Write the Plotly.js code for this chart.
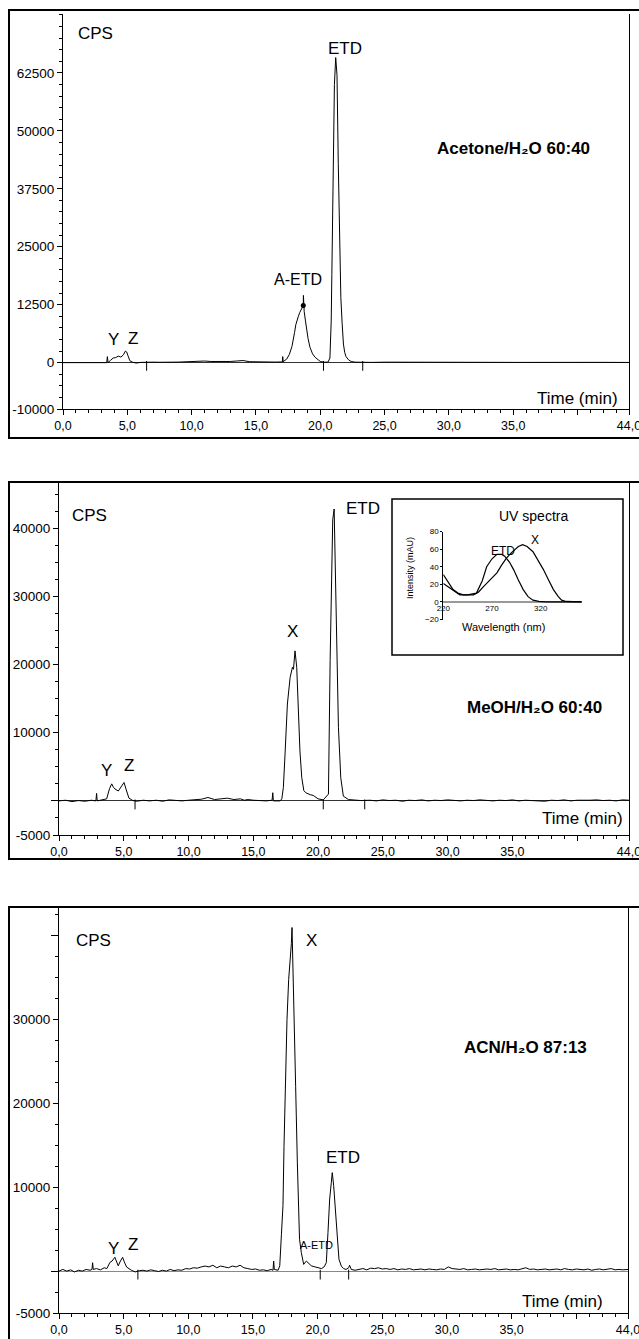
<!DOCTYPE html>
<html><head><meta charset="utf-8">
<script src="https://cdn.plot.ly/plotly-3.0.1.min.js"></script>
<style>html,body{margin:0;padding:0;background:#fff}#c{width:639px;height:1339px}</style>
</head><body><div id="c"></div>
<script>
// ---------- DATA ----------
// Panel 1: Acetone/H2O 60:40
const acetoneTime = [0,1,2,3,3.4,3.45,3.5,3.7,3.9,4.1, 4.3,4.5,4.7,4.85,4.95,5.05,5.2,5.4,5.7,6.0, 6.5,7.0,7.5,8.0,8.5,9.0,9.5,10.0,10.5,11.0, 11.5,12.0,12.5,13.0,13.5,14.0,14.5,15.0,15.5,16.0, 16.5,17.0,17.05,17.08,17.12,
  17.4,17.6,17.8,17.9,18.0,18.1,18.2,18.3,18.4,18.5,18.6,18.68,18.69,18.7,18.75,18.85,18.95,19.05,19.2,19.4,19.6,19.8,20.0,20.3,20.6,
  20.75,20.85,20.9,21.0,21.1,21.2,21.3,21.4,21.5,21.6,21.7,21.8,21.9,22.0,22.2,22.4,22.7,23.0,
  24,25,26,27,28,29,30,31,32,33,34,35,36,37,38,39,40,41,42,43,44];
const acetoneCps = [0,0,0,0,0,1300,0,500,1000,1100, 1400,1200,1700,2500,2300,1500,400,100,-100,50, 0,100,80,150,100,120,200,150,250,350, 250,200,300,250,350,450,200,150,100,80, 120,150,100,1300,200,
  800,1800,3500,4800,6500,8200,9300,10000,10800,11300,11800,12300,14500,12100,11000,9000,7000,5200,3300,1900,1150,600,250,100,100,
  1000,9000,19000,45000,60000,65800,62000,43000,26000,14000,8500,4000,2200,1300,600,250,100,80,
  50,100,80,60,100,80,50,70,60,80,60,50,70,60,80,60,50,40,60,50,40];

// Panel 2: MeOH/H2O 60:40
const meohTime = [0,0.5,1.0,1.5,2.0,2.5,2.85,2.9,2.95,3.3,3.68,3.9,4.07,4.2,4.32,4.58,4.84,5.02,5.22,5.4,5.7,
  6.0,6.5,7.0,7.5,8.0,8.5,9.0,9.5,10.0,10.5,11.0,11.5,12.0,12.5,13.0,13.5,14.0,14.3,14.6,15.0,15.5,16.0,16.45,16.5,16.55,17.07,
  17.2,17.32,17.45,17.63,17.84,18.02,18.1,18.22,18.35,18.48,18.6,18.74,18.9,19.05,19.24,19.4,19.63,20.0,20.4,
  20.8,20.93,21.05,21.13,21.24,21.31,21.44,21.57,21.75,21.95,22.34,22.8,
  23.3,24,24.5,25,25.5,26,26.5,27,27.5,28,28.5,29,29.5,30,30.5,31,31.5,32,32.5,33,33.5,34,34.5,35,35.5,36,36.5,37,37.5,38,38.5,39,39.5,40,40.5,41,41.5,42,42.5,43,43.5,44];
const meohCps = [0,100,-100,50,-50,100,0,1100,0,100,300,1800,2500,2000,1750,1450,2200,2700,1450,400,50,
  -50,100,0,100,-50,150,50,0,100,200,250,500,200,300,400,200,300,100,200,100,50,0,100,1200,0,0,
  300,1960,6900,14200,18100,19600,19300,22000,19600,13200,7300,3400,1500,1200,1000,900,800,300,150,
  1000,20600,35300,41200,42800,36300,22500,10800,3400,700,200,100,
  50,100,0,150,50,100,-50,100,50,150,0,100,50,150,100,0,100,50,150,50,0,100,50,150,0,100,50,100,-50,100,50,150,0,100,50,100,150,50,100,0,150,100];

// Panel 3: ACN/H2O 87:13
const acnTime = [0,0.3,0.6,0.9,1.2,1.5,1.8,2.1,2.4,2.55,2.6,2.65,2.9,3.2,3.5,3.7,3.94,4.1,4.32,4.45,4.58,4.75,4.92,5.05,5.23,5.6,
  5.9,6.2,6.5,6.8,7.1,7.4,7.7,8.0,8.3,8.6,8.9,9.2,9.5,9.8,10.1,10.4,10.7,11.0,11.3,11.6,11.9,12.2,12.5,12.8,13.1,13.4,13.7,14.0,14.3,14.6,14.9,15.2,15.5,15.8,16.1,16.4,16.55,16.6,16.65,16.94,
  17.07,17.2,17.32,17.4,17.5,17.63,17.76,17.89,17.97,18.02,18.1,18.2,18.3,18.43,18.53,18.6,18.74,18.92,19.13,19.3,19.51,19.8,20.02,20.3,20.5,20.67,
  20.8,20.93,21.06,21.13,21.24,21.37,21.5,21.65,21.83,22.0,22.2,22.4,22.47,22.6,22.9,
  23.2,23.5,23.8,24.1,24.4,24.7,25.0,25.3,25.6,25.9,26.2,26.5,26.8,27.1,27.4,27.7,28.0,28.3,28.6,28.9,29.2,29.5,29.8,30.1,30.4,30.7,31.0,31.3,31.6,31.9,32.2,32.5,32.8,33.1,33.4,33.7,34.0,34.3,34.6,34.9,35.2,35.5,35.8,36.1,36.4,36.7,37.0,37.3,37.6,37.9,38.2,38.5,38.8,39.1,39.4,39.7,40.0,40.3,40.6,40.9,41.2,41.5,41.8,42.1,42.4,42.7,43.0,43.3,43.6,44.0];
const acnCps = [0,200,0,150,-100,100,0,200,100,200,1000,200,300,150,400,300,1040,1200,1650,1000,630,1200,1650,1100,480,100,
  -100,50,100,0,150,50,-50,100,0,200,50,150,100,300,250,400,350,500,600,500,700,400,600,500,400,600,500,700,400,300,200,250,100,150,50,200,100,1200,200,100,
  630,4400,7800,14900,22900,30000,34800,37100,39100,41000,36300,28800,22000,13000,7000,3800,2200,800,1200,900,630,500,400,300,500,1000,
  4600,8600,10600,11750,10200,7000,3800,1400,600,300,200,400,700,200,100,
  200,300,150,350,300,400,250,300,200,300,150,250,200,300,150,200,250,150,250,200,150,250,200,500,300,250,200,300,150,200,250,150,200,250,200,300,150,200,250,150,200,150,300,400,200,250,150,200,250,150,200,250,150,300,200,150,250,200,150,250,100,200,250,150,200,300,150,200,150,200];

// Integration marks below the baseline (time)
const acetoneMarks = [6.5, 20.25, 23.3];
const meohMarks = [5.87, 20.4, 23.6];
const acnMarks = [6.1, 20.2, 22.4];
// A-ETD apex dot (panel 1)
const aetdApexTime = [18.68];
const aetdApexCps = [12300];

// Inset: UV spectra
const uvWaveETD = [220,225,230,237,245,254,260,264.5,270,275,280,283,288,292,297,302,307,312,318,325,340,362];
const uvETD     = [21,17,13,8,8,10,24,40,49,54,54,52,45,37,25,14,6,2,0.5,0,0,0];
const uvWaveX   = [220,225,230,235,240.5,251,256,261,268,275,280,285,290,293.5,297,301.4,306,312,317,322.6,328,333,338,341.4,346,362];
const uvX       = [31,22,14,10,8,8,11,17,25,33,42,50,56,59,63,65,63,57,48,37,25,14,6,2,0.5,0];

// Tick labels
const xTickVals = [0,5,10,15,20,25,30,35,44];
const xTickText = ['0,0','5,0','10,0','15,0','20,0','25,0','30,0','35,0','44,0'];
const xUnlabelledMajor = [40];
const y1TickVals = [-10000,0,12500,25000,37500,50000,62500];
const y1TickText = ['-10000','0','12500','25000','37500','50000','62500'];
const y2TickVals = [-5000,10000,20000,30000,40000];
const y2TickText = ['-5000','10000','20000','30000','40000'];
const y2UnlabelledMajor = [0];
const y3TickVals = [-5000,10000,20000,30000];
const y3TickText = ['-5000','10000','20000','30000'];
const y3UnlabelledMajor = [0, 40000];
const uvXTickVals = [220,270,320];
const uvYTickVals = [-20,0,20,40,60,80];

// ---------- LAYOUT HELPERS ----------
const W = 639, H = 1339;
const FONT = 'Liberation Sans, Arial, Helvetica, sans-serif';
const fx = v => v / W;
const fy = v => 1 - v / H;

function xAxis(d0, d1, anchor) {
  return {domain:[fx(d0), fx(d1)], anchor:anchor, range:[0,44], tickmode:'array',
    tickvals:xTickVals, ticktext:xTickText, ticks:'outside', ticklen:5, tickwidth:1, tickcolor:'#000',
    showline:true, linecolor:'#000', linewidth:1, showgrid:false, zeroline:false, fixedrange:true,
    ticklabeloverflow:'allow',
    tickfont:{family:FONT, size:12.5, color:'#000'},
    minor:{tickmode:'linear', tick0:0, dtick:1, ticks:'outside', ticklen:3, tickwidth:1, tickcolor:'#000', showgrid:false}};
}
function xOverlay(base, anchor) {
  return {overlaying:base, anchor:anchor, range:[0,44], tickmode:'array', tickvals:xUnlabelledMajor,
    showticklabels:false, ticks:'outside', ticklen:5, tickwidth:1, tickcolor:'#000',
    showline:false, showgrid:false, zeroline:false, fixedrange:true};
}
function yAxis(top, bot, anchor, range, vals, text, zc) {
  return {domain:[fy(bot), fy(top)], anchor:anchor, range:range, tickmode:'array',
    tickvals:vals, ticktext:text, ticks:'outside', ticklen:5, tickwidth:1, tickcolor:'#000',
    showline:true, mirror:true, linecolor:'#000', linewidth:1, showgrid:false,
    zeroline:true, zerolinecolor:zc, zerolinewidth:1, fixedrange:true,
    tickfont:{family:FONT, size:13.5, color:'#000'},
    minor:{tickmode:'linear', tick0:0, dtick:2500, ticks:'outside', ticklen:3, tickwidth:1, tickcolor:'#000', showgrid:false}};
}
function yOverlay(base, anchor, range, vals) {
  return {overlaying:base, anchor:anchor, range:range, tickmode:'array', tickvals:vals,
    showticklabels:false, ticks:'outside', ticklen:7, tickwidth:1, tickcolor:'#000',
    showline:false, showgrid:false, zeroline:false, fixedrange:true};
}
function ann(text, x, y, size, opts) {
  return Object.assign({text:text, x:fx(x), y:fy(y), xref:'paper', yref:'paper', showarrow:false,
    xanchor:'center', yanchor:'middle', font:{family:FONT, size:size, color:'#000'}}, opts || {});
}
function frame(x0, y0, y1) {
  return {type:'rect', xref:'paper', yref:'paper', x0:fx(x0), x1:1.05, y0:fy(y1), y1:fy(y0),
    line:{color:'#000', width:2}};
}

const lineStyle = {color:'#000', width:1};
const markStyle = {symbol:'line-ns-open', size:7, color:'#000', line:{color:'#000', width:1}};
const Y1R = [-10000, 75200], Y2R = [-5000, 46760], Y3R = [-5000, 43450];
const BOLD = {family:FONT, size:17, color:'#000', weight:'bold'};

const data = [
  {x:acetoneTime, y:acetoneCps, type:'scatter', mode:'lines', line:lineStyle, xaxis:'x', yaxis:'y', hoverinfo:'skip'},
  {x:acetoneMarks, y:acetoneMarks.map(() => -700), type:'scatter', mode:'markers', marker:markStyle, xaxis:'x', yaxis:'y', hoverinfo:'skip'},
  {x:aetdApexTime, y:aetdApexCps, type:'scatter', mode:'markers', marker:{symbol:'circle', size:5, color:'#000'}, xaxis:'x', yaxis:'y', hoverinfo:'skip'},
  {x:meohTime, y:meohCps, type:'scatter', mode:'lines', line:lineStyle, xaxis:'x2', yaxis:'y2', hoverinfo:'skip'},
  {x:meohMarks, y:meohMarks.map(() => -520), type:'scatter', mode:'markers', marker:markStyle, xaxis:'x2', yaxis:'y2', hoverinfo:'skip'},
  {x:acnTime, y:acnCps, type:'scatter', mode:'lines', line:lineStyle, xaxis:'x3', yaxis:'y3', hoverinfo:'skip'},
  {x:acnMarks, y:acnMarks.map(() => -420), type:'scatter', mode:'markers', marker:markStyle, xaxis:'x3', yaxis:'y3', hoverinfo:'skip'},
  {x:uvWaveETD, y:uvETD, type:'scatter', mode:'lines', line:{color:'#000', width:1.2}, xaxis:'x4', yaxis:'y4', hoverinfo:'skip'},
  {x:uvWaveX, y:uvX, type:'scatter', mode:'lines', line:{color:'#000', width:1.2}, xaxis:'x4', yaxis:'y4', hoverinfo:'skip'},
  // empty traces that register the overlay axes (unlabelled major ticks)
  {x:[], y:[], type:'scatter', mode:'lines', xaxis:'x5', yaxis:'y', hoverinfo:'skip'},
  {x:[], y:[], type:'scatter', mode:'lines', xaxis:'x6', yaxis:'y2', hoverinfo:'skip'},
  {x:[], y:[], type:'scatter', mode:'lines', xaxis:'x7', yaxis:'y3', hoverinfo:'skip'},
  {x:[], y:[], type:'scatter', mode:'lines', xaxis:'x2', yaxis:'y5', hoverinfo:'skip'},
  {x:[], y:[], type:'scatter', mode:'lines', xaxis:'x3', yaxis:'y6', hoverinfo:'skip'}
];

const layout = {
  width:W, height:H, margin:{l:0, r:0, t:0, b:0}, showlegend:false,
  paper_bgcolor:'#fff', plot_bgcolor:'rgba(0,0,0,0)', font:{family:FONT, color:'#000'},
  xaxis: xAxis(63, 629, 'y'),
  yaxis: yAxis(14, 409, 'x', Y1R, y1TickVals, y1TickText, '#333'),
  xaxis2: xAxis(59, 629, 'y2'),
  yaxis2: yAxis(482, 835, 'x2', Y2R, y2TickVals, y2TickText, '#333'),
  xaxis3: xAxis(59, 628, 'y3'),
  yaxis3: yAxis(907, 1313, 'x3', Y3R, y3TickVals, y3TickText, '#888'),
  xaxis4: {domain:[fx(443.3), fx(581.7)], anchor:'free', position:fy(602), range:[220, 362],
    tickmode:'array', tickvals:uvXTickVals, ticks:'', showline:false, showgrid:false, zeroline:false,
    fixedrange:true, tickfont:{family:FONT, size:8, color:'#000'}},
  yaxis4: {domain:[fy(619.5), fy(531.5)], anchor:'x4', range:[-20, 80], tickmode:'array',
    tickvals:uvYTickVals, ticks:'outside', ticklen:2, tickcolor:'#000', showline:true, linecolor:'#000',
    linewidth:1, showgrid:false, zeroline:true, zerolinecolor:'#999', zerolinewidth:1.2, fixedrange:true,
    tickfont:{family:FONT, size:8, color:'#000'}},
  xaxis5: xOverlay('x', 'y'),
  xaxis6: xOverlay('x2', 'y2'),
  xaxis7: xOverlay('x3', 'y3'),
  yaxis5: yOverlay('y2', 'x2', Y2R, y2UnlabelledMajor),
  yaxis6: yOverlay('y3', 'x3', Y3R, y3UnlabelledMajor),
  shapes: [
    frame(9, 10, 438),
    frame(9, 482, 859),
    frame(9, 907, 1360),
    {type:'rect', xref:'paper', yref:'paper', x0:fx(392), x1:fx(623), y0:fy(655), y1:fy(499), line:{color:'#000', width:1.5}}
  ],
  annotations: [
    // panel 1
    ann('CPS', 95, 33, 17),
    ann('Y', 113, 340, 17), ann('Z', 133, 338, 17),
    ann('A-ETD', 298, 279, 16),
    ann('ETD', 345, 48, 17),
    ann('Acetone/H₂O 60:40', 513, 148, 17, {font:BOLD}),
    ann('Time (min)', 620, 398, 17, {xanchor:'right'}),
    // panel 2
    ann('CPS', 89, 515, 17),
    ann('Y', 106, 770, 17), ann('Z', 129, 765, 17),
    ann('X', 292, 632, 17),
    ann('ETD', 363, 509, 17),
    ann('MeOH/H₂O 60:40', 534, 707, 17, {font:BOLD}),
    ann('Time (min)', 625, 819, 17, {xanchor:'right'}),
    // inset
    ann('UV spectra', 533, 516, 14),
    ann('ETD', 503, 551, 12),
    ann('X', 535, 540, 12),
    ann('Intensity (mAU)', 410, 568, 9, {textangle:-90}),
    ann('Wavelength (nm)', 503, 627, 11),
    // panel 3
    ann('CPS', 93, 940, 17),
    ann('X', 311, 940, 17),
    ann('ETD', 343, 1157, 17),
    ann('A-ETD', 316, 1245, 11),
    ann('Y', 113, 1248, 17), ann('Z', 133, 1244, 17),
    ann('ACN/H₂O 87:13', 525, 1047, 17, {font:BOLD}),
    ann('Time (min)', 605, 1301, 17, {xanchor:'right'})
  ]
};

Plotly.newPlot('c', data, layout, {staticPlot:true, displayModeBar:false});
</script>
</body></html>
